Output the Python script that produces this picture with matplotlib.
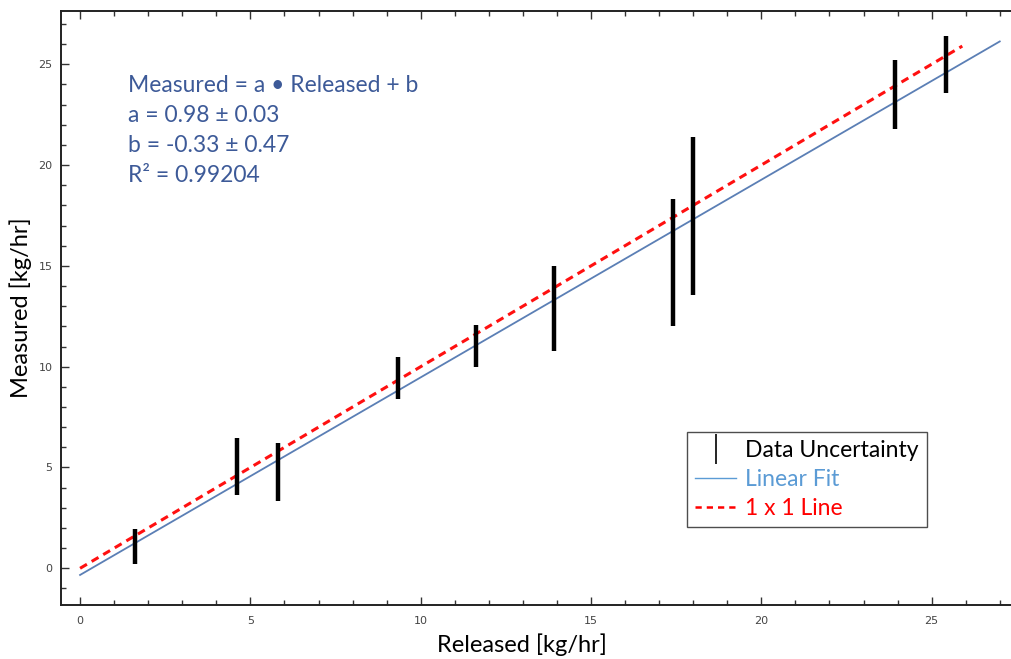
import numpy as np
import matplotlib
matplotlib.use("Agg")
import matplotlib.pyplot as plt
from matplotlib.lines import Line2D
from matplotlib.ticker import MultipleLocator

# released rate and uncertainty range of the measured rate
released = [1.61, 4.62, 5.81, 9.32, 11.61, 13.91, 17.41, 18.0, 23.91, 25.41]
meas_low = [0.23, 3.64, 3.35, 8.40, 9.97, 10.78, 12.02, 13.56, 21.80, 23.59]
meas_high = [1.95, 6.45, 6.20, 10.50, 12.05, 15.0, 18.30, 21.41, 25.21, 26.40]

fit_a = 0.98
fit_b = -0.33
fit_x = [0.0, 27.0]
one_x = [0.0, 25.9]

fit_text = ["Measured = a \u2022 Released + b",
            "a = 0.98 \u00b1 0.03",
            "b = -0.33 \u00b1 0.47",
            "R\u00b2 = 0.99204"]

txt_font = ["Lato", "DejaVu Sans"]

fig = plt.figure(figsize=(10.11, 6.59), dpi=100)
ax = fig.add_axes([61 / 1011, 54 / 659, 950 / 1011, 594 / 659])

fx = np.array(fit_x)
ax.plot(fx, fit_a * fx + fit_b, color="#5b7fb5", lw=1.3, zorder=2)
ax.plot(one_x, one_x, color="#ff1010", lw=2.2, ls=(0, (2.6, 1.8)), zorder=3)
ax.vlines(released, meas_low, meas_high, color="black", lw=3.2, zorder=4)

ax.set_xlim(-0.56, 27.33)
ax.set_ylim(-1.82, 27.64)
ax.xaxis.set_major_locator(MultipleLocator(5))
ax.xaxis.set_minor_locator(MultipleLocator(1))
ax.yaxis.set_major_locator(MultipleLocator(5))
ax.yaxis.set_minor_locator(MultipleLocator(1))
ax.tick_params(which="both", direction="in", top=True, right=False,
               labelsize=8, labelcolor="#444444", color="#333333")
ax.tick_params(which="major", length=6, width=1)
ax.tick_params(which="minor", length=3.5, width=1)
ax.tick_params(axis="x", which="both", pad=8)
ax.tick_params(axis="y", which="both", pad=6)
ax.spines["right"].set_visible(False)
for s in ["left", "bottom", "top"]:
    ax.spines[s].set_linewidth(1.4)
    ax.spines[s].set_color("#222222")

ax.set_xlabel("Released [kg/hr]", fontsize=17, family=txt_font)
ax.set_ylabel("Measured [kg/hr]", fontsize=17, family=txt_font)
ax.xaxis.set_label_coords(0.485, -0.047)
ax.yaxis.set_label_coords(-0.031, 0.5)

for i, line in enumerate(fit_text):
    fig.text(128 / 1011, 1 - (86 + 30 * i) / 659, line, fontsize=16.5,
             color="#3d5a98", family=txt_font, va="center", ha="left")

handles = [Line2D([], [], color="black", marker="|", ls="none", markersize=22, mew=1.2),
           Line2D([], [], color="#5b9bd5", lw=1),
           Line2D([], [], color="red", lw=1.8, ls=(0, (2.5, 2)))]
labels = ["Data Uncertainty", "Linear Fit", "1 x 1 Line"]
leg = ax.legend(handles, labels, loc="upper left",
                bbox_to_anchor=(687 / 1011, 1 - 432 / 659),
                bbox_transform=fig.transFigure, frameon=True, fancybox=False,
                edgecolor="#222222", handlelength=1.8,
                handletextpad=0.4, labelspacing=0.35, borderpad=0.35,
                borderaxespad=0, prop={"family": txt_font, "size": 16.5})
leg.get_frame().set_linewidth(1.0)
for t, c in zip(leg.get_texts(), ["black", "#5b9bd5", "red"]):
    t.set_color(c)

fig.savefig("out.png", dpi=100)
